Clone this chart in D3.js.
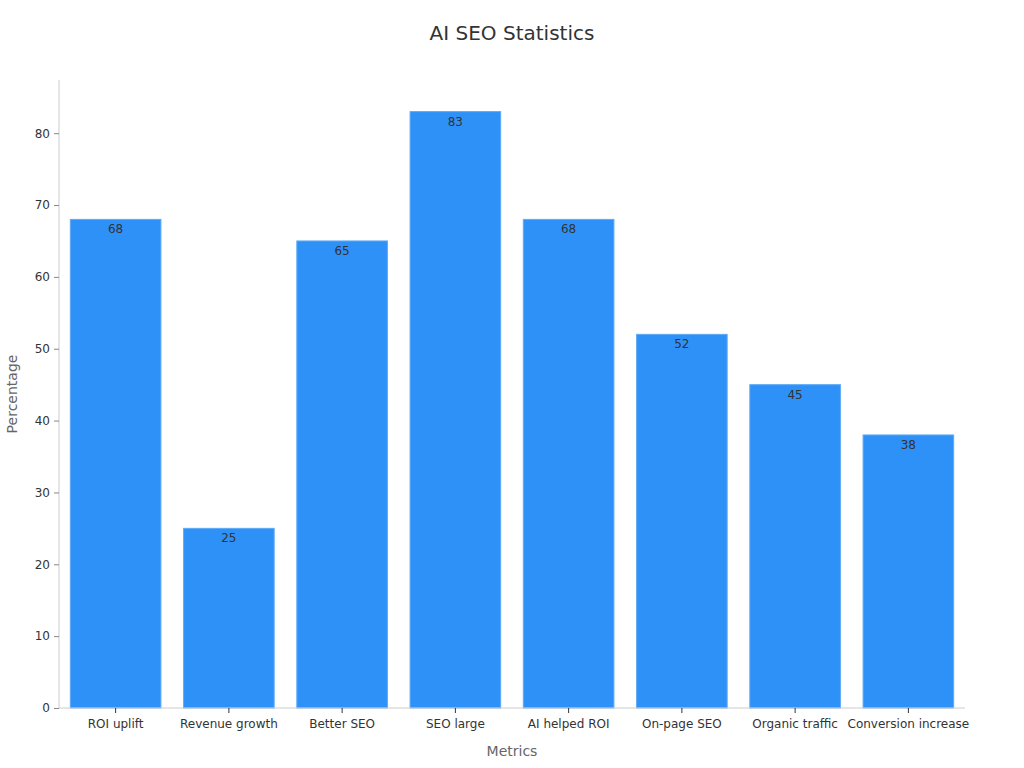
<!DOCTYPE html>
<html><head><meta charset="utf-8">
<script src="https://cdn.jsdelivr.net/npm/d3@7"></script>
<style>body{margin:0;background:#fff;font-family:"DejaVu Sans",sans-serif;}</style>
</head><body><svg id="c" width="1024" height="768"></svg>
<script>
const categories = ["ROI uplift","Revenue growth","Better SEO","SEO large","AI helped ROI","On-page SEO","Organic traffic","Conversion increase"];
const values = [68,25,65,83,68,52,45,38];
const yTicks = [0,10,20,30,40,50,60,70,80];

const svg = d3.select("#c");
const m = {l:59, r:1024-965, t:80, b:768-708};
const W = 1024, H = 768;
const x = d3.scaleBand().domain(categories).range([m.l, W-m.r]).paddingInner(0.2).paddingOuter(0.1);
const y = d3.scaleLinear().domain([0, 87.4]).range([H-m.b, m.t]);

svg.append("text").attr("x",512).attr("y",40).attr("text-anchor","middle")
  .attr("font-size",20).attr("fill","#333").text("AI SEO Statistics");

svg.selectAll("rect.bar").data(values).enter().append("rect")
  .attr("x",(d,i)=>x(categories[i])).attr("y",d=>y(d))
  .attr("width",x.bandwidth()).attr("height",d=>y(0)-y(d))
  .attr("fill","#2e91f8").attr("stroke","#5eaaf6").attr("stroke-width",1);

svg.selectAll("text.val").data(values).enter().append("text")
  .attr("x",(d,i)=>x(categories[i])+x.bandwidth()/2).attr("y",d=>y(d)+14)
  .attr("text-anchor","middle").attr("font-size",12).attr("fill","#333").text(d=>d);

// y axis
const ya = svg.append("g").attr("transform",`translate(${m.l},0)`)
  .call(d3.axisLeft(y).tickValues(yTicks).tickSize(5).tickPadding(4));
ya.select(".domain").attr("stroke","#ccc").attr("d",`M0,${m.t}V${H-m.b}`);
ya.selectAll(".tick line").attr("stroke","#888");
ya.selectAll(".tick text").attr("font-size",12).attr("fill","#333").attr("font-family","DejaVu Sans");

// x axis
const xa = svg.append("g").attr("transform",`translate(0,${H-m.b})`)
  .call(d3.axisBottom(x).tickSize(5).tickPadding(6));
xa.select(".domain").attr("stroke","#ccc").attr("d",`M${m.l},0H${W-m.r}`);
xa.selectAll(".tick line").attr("stroke","#333");
xa.selectAll(".tick text").attr("font-size",12).attr("fill","#333").attr("font-family","DejaVu Sans");

svg.append("text").attr("transform",`translate(17,394) rotate(-90)`).attr("text-anchor","middle")
  .attr("font-size",14).attr("fill","#666").text("Percentage");
svg.append("text").attr("x",512).attr("y",756).attr("text-anchor","middle")
  .attr("font-size",14).attr("fill","#666").text("Metrics");
</script></body></html>
